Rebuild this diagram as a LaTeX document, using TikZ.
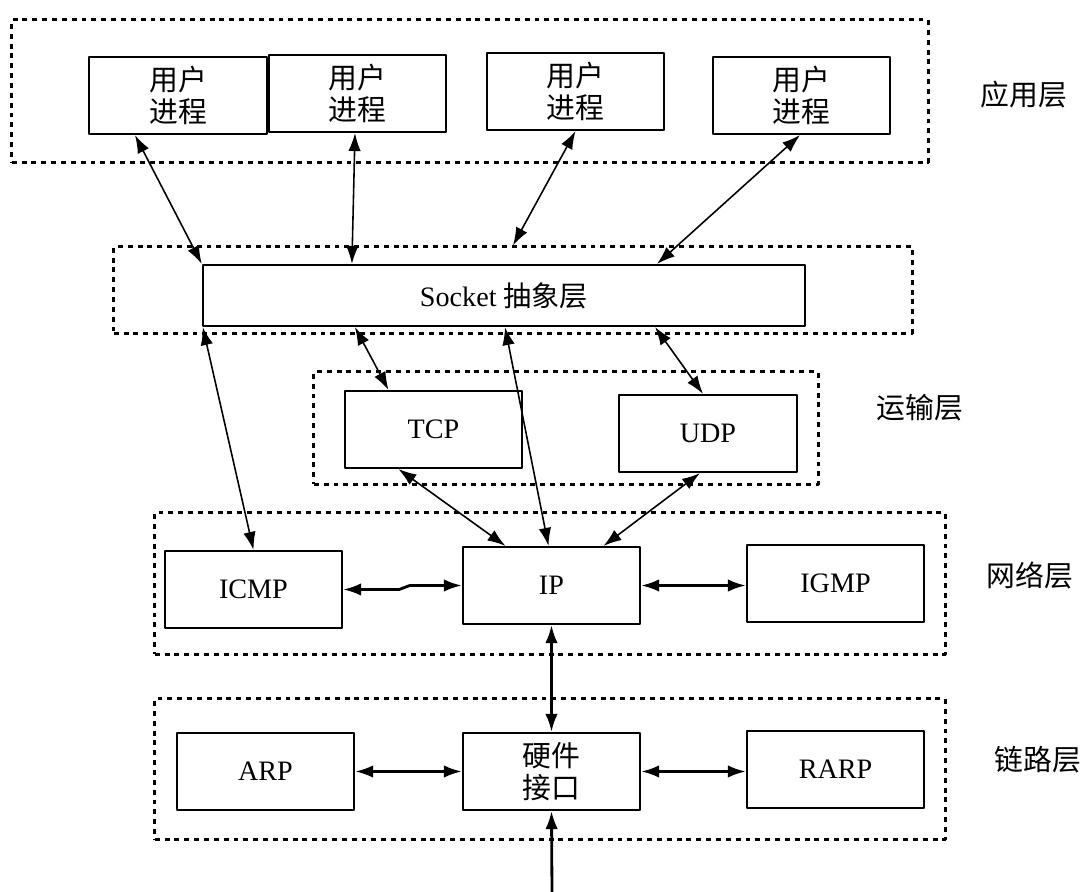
\documentclass[tikz,border=0pt]{standalone}
\usepackage{fontspec}
\setmainfont{Liberation Serif}
\newfontfamily\cjk{Noto Sans CJK SC}
\usetikzlibrary{arrows.meta}

\begin{document}
\begin{tikzpicture}[x=0.01cm, y=-0.01cm, font=\fontsize{8}{9.1}\selectfont, line join=round, >={Latex[length=1.8mm,width=1.25mm]},
		box/.style={draw, line width=0.6pt, minimum width=1.77cm, minimum height=0.77cm, align=center, inner sep=0pt},
		cbox/.style={box, font=\fontsize{8.2}{9.1}\selectfont\cjk},
		layer/.style={draw, dash pattern=on 1.4pt off 1.4pt, line width=0.85pt, inner sep=0pt},
		tag/.style={font=\fontsize{8.2}{9.1}\selectfont\cjk},
		link/.style={<->, line width=0.45pt},
		hlink/.style={<->, line width=0.8pt}]
	\useasboundingbox (0,0) rectangle (1084,892);
	% layers
	\node[layer, minimum width=9.16cm, minimum height=1.42cm] (appl) at (470,91) {};
	\node[layer, minimum width=7.98cm, minimum height=0.86cm] (sockl) at (513,290) {};
	\node[layer, minimum width=5.04cm, minimum height=1.12cm] (transl) at (566,428) {};
	\node[layer, minimum width=7.90cm, minimum height=1.41cm] (netl) at (550,583.5) {};
	\node[layer, minimum width=7.90cm, minimum height=1.40cm] (linkl) at (550,769) {};
	\node[tag] (tapp) at (1024,95) {应用层};
	\node[tag] (ttrans) at (920,408) {运输层};
	\node[tag] (tnet) at (1030,575) {网络层};
	\node[tag] (tlink) at (1038,760) {链路层};
	% boxes
	\node[cbox, minimum width=1.78cm] (up1) at (178,95.5) {用户\\进程};
	\node[cbox] (up2) at (357.5,93.5) {用户\\进程};
	\node[cbox] (up3) at (575.5,91.5) {用户\\进程};
	\node[cbox] (up4) at (801.5,95.5) {用户\\进程};
	\node[box, minimum width=6.02cm, minimum height=0.61cm] (sock) at (504,295.5) {Socket {\cjk 抽象层}};
	\node[box] (tcp) at (433.5,429.5) {TCP};
	\node[box, minimum width=1.78cm] (udp) at (708,433.5) {UDP};
	\node[box] (icmp) at (253.5,589.5) {ICMP};
	\node[box] (ip) at (551.5,585.5) {IP};
	\node[box] (igmp) at (835.5,583.5) {IGMP};
	\node[box] (arp) at (265.5,771.5) {ARP};
	\node[cbox] (hw) at (551.5,771.5) {硬件\\接口};
	\node[box] (rarp) at (835.5,769.5) {RARP};
	\coordinate (feed) at (552,892);
	% links
	\draw[link] ([xshift=-4.3mm]up1.south) -- (sock.north west);
	\draw[link] ([xshift=-0.25mm]up2.south) -- ([xshift=-15.2mm]sock.north);
	\draw[link] (up3.south) -- (sockl.north);
	\draw[link] ([xshift=-0.15mm]up4.south) -- ([xshift=15.3mm]sock.north);
	\draw[link] ([xshift=0.1mm]sock.south west) -- (icmp.north);
	\draw[link] ([xshift=-14.9mm]sock.south) -- ([xshift=-4.5mm]tcp.north);
	\draw[link] ([xshift=0.1mm]sock.south) -- ([xshift=-0.3mm]ip.north);
	\draw[link] ([xshift=15.1mm]sock.south) -- ([xshift=-0.5mm]udp.north);
	\draw[link] ([xshift=-3.5mm]tcp.south) -- ([xshift=-4.6mm]ip.north);
	\draw[link] ([xshift=-0.8mm]udp.south) -- ([xshift=5.2mm]ip.north);
	\draw[hlink] (icmp.east) -- ++(0.56cm,0) -- ([xshift=-5.2mm]ip.west) -- (ip.west);
	\draw[hlink] (ip.east) -- (ip.east -| igmp.west);
	\draw[hlink] (ip.south) -- (hw.north);
	\draw[hlink] (arp.east) -- (hw.west);
	\draw[hlink] (hw.east) -- (hw.east -| rarp.west);
	\draw[->, line width=0.8pt] (feed) -- (hw.south);
\end{tikzpicture}
\end{document}
